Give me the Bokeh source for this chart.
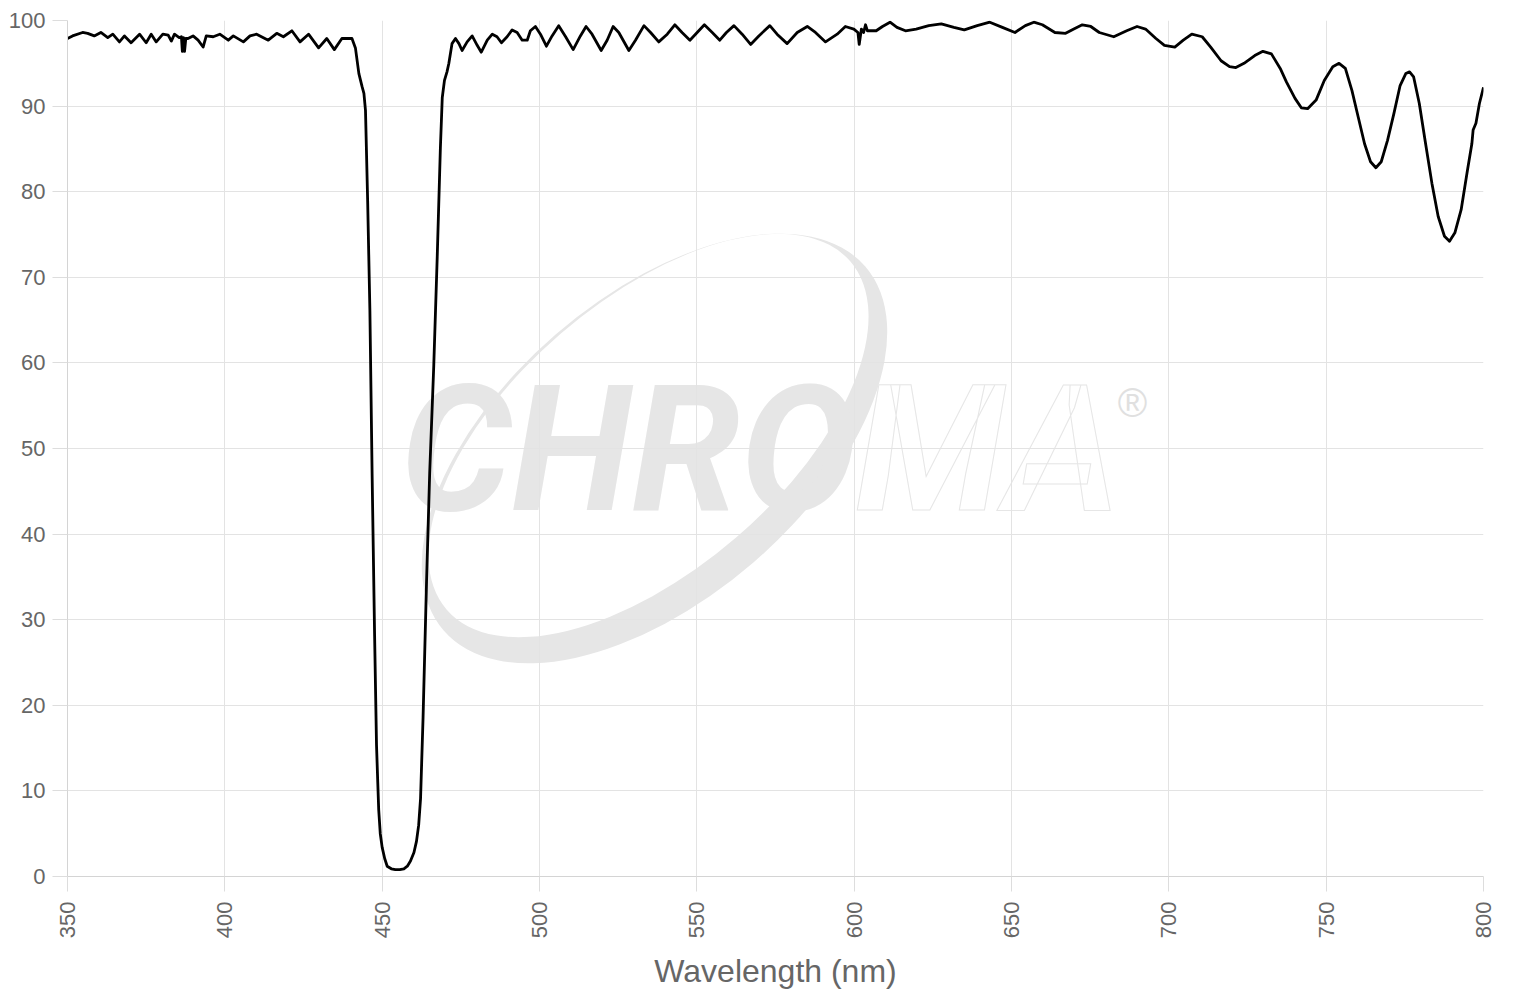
import math
from bokeh.plotting import figure
from bokeh.models import Range1d, FixedTicker
from bokeh.core.properties import value
from bokeh.embed import file_html
from bokeh.resources import INLINE

# ---- data ----
wavelength = [
    350.0, 351.6, 354.8, 356.4, 358.5, 360.6, 362.8, 364.4, 366.5, 368.1,
    370.2, 372.9, 375.0, 376.6, 378.2, 380.3, 382.0, 383.0, 384.0, 385.5,
    386.2, 386.5, 386.9, 387.2, 387.6, 388.3, 389.9, 391.5, 393.1, 394.1,
    396.3, 398.4, 401.1, 402.7, 405.9, 408.0, 410.1, 413.8, 416.5, 418.6,
    421.3, 423.9, 426.6, 429.8, 432.4, 434.8, 437.2, 440.4, 441.5, 442.6,
    443.6, 444.2, 444.7, 445.4, 446.1, 446.8, 447.6, 448.2, 448.6, 448.9,
    449.4, 450.0, 450.8, 451.6, 452.9, 454.2, 455.6, 456.9, 458.0, 459.0,
    460.1, 460.9, 461.6, 462.2, 463.0, 464.1, 465.1, 466.4,
    467.5, 468.5, 469.1, 469.8, 470.6, 471.2, 472.2, 473.3, 474.4, 475.4,
    477.0, 478.6, 480.2, 481.5, 483.4, 485.0, 486.5, 487.9, 489.7, 491.3,
    492.9, 494.5, 496.1, 497.1, 498.7, 500.3, 502.2, 504.0, 506.1, 508.3,
    510.7, 513.0, 514.8, 516.7, 519.6, 521.5, 523.4, 525.2, 528.4, 530.5,
    533.2, 535.3, 537.9, 540.6, 543.0, 545.3, 547.8, 550.1, 552.4, 554.9,
    557.3, 559.4, 561.8, 564.4, 567.1, 569.7, 573.2, 575.5, 578.7, 581.9,
    585.1, 587.7, 590.9, 594.6, 597.2, 599.9, 601.2, 601.6, 602.3, 603.0,
    603.6, 604.2, 605.0, 607.0, 609.0, 611.4, 613.6, 616.3, 619.7, 623.7,
    627.7, 631.7, 635.0, 639.1, 643.1, 647.1, 651.1, 654.4, 657.1, 659.8,
    663.8, 667.2, 669.8, 672.5, 675.2, 677.9, 682.5, 686.6, 689.9, 692.6,
    695.9, 698.6, 701.9, 704.6, 707.3, 710.6, 713.3, 716.6, 719.3, 721.3,
    723.9, 727.3, 729.9, 732.6, 735.4, 737.4, 740.1, 742.1, 744.1, 746.8,
    749.4, 752.1, 754.1, 756.1, 758.2, 760.2, 762.2, 764.1, 765.8, 767.5,
    769.5, 771.5, 773.5, 775.3, 776.5, 777.8, 779.6, 781.6, 783.6, 785.6,
    787.6, 789.2, 790.9, 792.9, 794.9, 796.3, 796.7, 797.6, 798.7, 800.0,
]
transmission = [
    97.9, 98.2, 98.6, 98.5, 98.2, 98.6, 98.0, 98.4, 97.5, 98.2,
    97.4, 98.4, 97.4, 98.4, 97.5, 98.4, 98.3, 97.6, 98.4, 98.0,
    98.1, 96.4, 98.0, 96.4, 97.9, 97.9, 98.2, 97.7, 96.9, 98.2,
    98.1, 98.4, 97.7, 98.2, 97.5, 98.2, 98.4, 97.7, 98.5, 98.1,
    98.8, 97.5, 98.4, 96.8, 97.9, 96.6, 97.9, 97.9, 96.8, 93.8,
    92.3, 91.5, 89.5, 78.7, 66.1, 47.1, 28.1, 15.4, 11.0, 7.8,
    5.0, 3.4, 2.1, 1.2, 0.9, 0.8, 0.8, 0.9, 1.2, 1.8,
    2.8, 4.1, 6.0, 9.1, 18.6, 34.4, 47.1, 59.7,
    72.4, 85.1, 91.0, 93.0, 94.0, 95.0, 97.3, 97.9, 97.3, 96.5,
    97.5, 98.2, 97.1, 96.3, 97.7, 98.4, 98.1, 97.4, 98.1, 98.9,
    98.6, 97.7, 97.7, 98.8, 99.3, 98.4, 97.0, 98.2, 99.4, 98.1,
    96.6, 98.2, 99.3, 98.4, 96.5, 97.7, 99.3, 98.6, 96.5, 97.7,
    99.4, 98.6, 97.5, 98.4, 99.5, 98.6, 97.7, 98.6, 99.5, 98.6,
    97.7, 98.6, 99.4, 98.4, 97.2, 98.2, 99.4, 98.4, 97.3, 98.6,
    99.3, 98.6, 97.5, 98.4, 99.3, 99.0, 98.6, 97.2, 99.0, 98.6,
    99.5, 98.8, 98.8, 98.8, 99.3, 99.8, 99.2, 98.8, 99.0, 99.4,
    99.6, 99.2, 98.9, 99.4, 99.8, 99.2, 98.6, 99.4, 99.8, 99.5,
    98.6, 98.5, 99.0, 99.5, 99.3, 98.6, 98.1, 98.8, 99.3, 99.0,
    97.9, 97.1, 96.9, 97.7, 98.4, 98.1, 96.9, 95.3, 94.6, 94.5,
    95.0, 95.9, 96.4, 96.1, 94.4, 92.8, 90.9, 89.8, 89.7, 90.7,
    93.0, 94.6, 95.0, 94.4, 91.8, 88.7, 85.6, 83.5, 82.8, 83.5,
    86.0, 89.1, 92.4, 93.8, 94.0, 93.4, 90.3, 85.6, 81.0, 77.1,
    74.8, 74.2, 75.2, 77.9, 82.5, 85.6, 87.2, 88.0, 90.3, 92.2,
]
x_ticks = [350, 400, 450, 500, 550, 600, 650, 700, 750, 800]
y_ticks = [0, 10, 20, 30, 40, 50, 60, 70, 80, 90, 100]
x_label = "Wavelength (nm)"

FONT = "Liberation Sans"
LABEL_GREY = "#666666"

p = figure(width=1520, height=1000, output_backend="svg", toolbar_location=None,
           x_range=Range1d(350, 800), y_range=Range1d(0, 100),
           min_border_left=67, min_border_right=37, min_border_top=20,
           min_border_bottom=124)
p.outline_line_color = None
p.background_fill_color = "white"
p.border_fill_color = "white"

# pixel-like ranges for the decorative watermark (1 unit = 1 px)
p.extra_x_ranges = {"px": Range1d(0, 1416)}
p.extra_y_ranges = {"px": Range1d(0, 856)}

WM = "#e6e6e6"
p.ellipse(x=[587], y=[428], width=557, height=302, angle=math.radians(40.8),
          fill_color=WM, line_color=None, x_range_name="px", y_range_name="px",
          level="image")
p.ellipse(x=[581], y=[441], width=533, height=269, angle=math.radians(40.8),
          fill_color="white", line_color=None, x_range_name="px", y_range_name="px",
          level="image")
p.text(x=[333], y=[426], text=["CHRO"], text_font=value("Roboto"),
       text_font_style="bold italic", text_font_size="175px", text_color=WM,
       text_align="left", text_baseline="alphabetic",
       x_range_name="px", y_range_name="px", level="image")
p.text(x=[788], y=[426], text=["MA"], text_font=value("Roboto"),
       text_font_style="bold italic", text_font_size="175px", text_color="white",
       text_outline_color=WM, text_align="left", text_baseline="alphabetic",
       x_range_name="px", y_range_name="px", level="image")
p.text(x=[1065], y=[474], text=["®"], text_font=value("Liberation Sans"),
       text_font_size="40px", text_color="#e0e0e0", text_align="center",
       text_baseline="middle", x_range_name="px", y_range_name="px", level="image")

# main spectrum
p.line(wavelength, transmission, line_color="black", line_width=2.8,
       line_join="round")

p.xaxis.ticker = FixedTicker(ticks=x_ticks)
p.yaxis.ticker = FixedTicker(ticks=y_ticks)
for ax in (p.xaxis[0], p.yaxis[0]):
    ax.axis_line_color = "#d4d4d4"
    ax.major_tick_line_color = "#dddddd"
    ax.major_tick_out = 15
    ax.major_tick_in = 0
    ax.minor_tick_line_color = None
    ax.major_label_text_color = LABEL_GREY
    ax.major_label_text_font = FONT
    ax.major_label_text_font_size = "22px"
p.xaxis.major_label_orientation = math.pi / 2
p.xaxis.major_label_standoff = 10
p.yaxis.major_label_standoff = 7
p.xaxis.axis_label = x_label
p.xaxis.axis_label_text_font = FONT
p.xaxis.axis_label_text_font_size = "32px"
p.xaxis.axis_label_text_font_style = "normal"
p.xaxis.axis_label_text_color = LABEL_GREY
p.xaxis.axis_label_standoff = 12

p.grid.grid_line_color = "#e3e3e3"
p.grid.grid_line_width = 1

open("out.html", "w").write(file_html(p, INLINE))
